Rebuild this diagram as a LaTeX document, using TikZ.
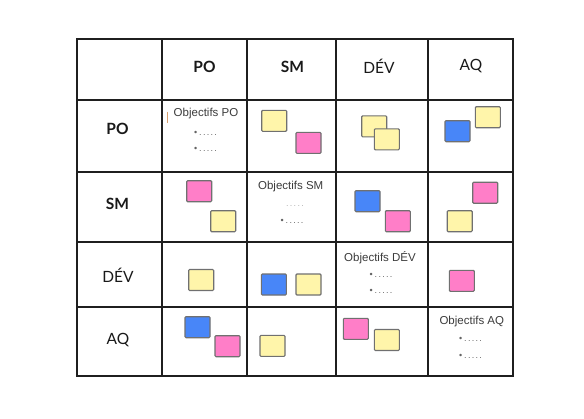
\documentclass[tikz,border=0pt]{standalone}
\usepackage{fontspec}
\setmainfont{Liberation Sans}
\newfontfamily\hdfont{Lato}
\definecolor{noteY}{HTML}{FFF5AA}
\definecolor{noteP}{HTML}{FF7EC8}
\definecolor{noteB}{HTML}{4886F8}
\definecolor{noteEdge}{HTML}{707070}
\definecolor{objText}{HTML}{3C3C3C}
\definecolor{cursorC}{HTML}{D9A070}
\newcommand{\dotrow}{.\kern1.3pt.\kern1.3pt.\kern1.3pt.\kern1.3pt.}
\tikzset{
  gridline/.style={line width=2pt, draw=black!88},
  note/.style={draw=noteEdge, line width=1.1pt, rounded corners=1pt, minimum width=25pt, minimum height=21pt, inner sep=0pt},
  ynote/.style={note, fill=noteY},
  pnote/.style={note, fill=noteP},
  bnote/.style={note, fill=noteB},
  headB/.style={font=\hdfont\bfseries\fontsize{15.5}{17}\selectfont, text=black!90, inner sep=0pt},
  headR/.style={font=\hdfont\fontsize{15.5}{17}\selectfont, text=black!90, inner sep=0pt},
  objtitle/.style={font=\fontsize{11.5}{13}\selectfont, text=objText, inner sep=0pt},
  objitem/.style={font=\fontsize{9}{10}\selectfont, text=objText!80, inner sep=0pt},
}
\begin{document}
\begin{tikzpicture}[x=1pt,y=-1pt]
\useasboundingbox[fill=white] (0,0) rectangle (584,418);
% grid
\foreach \xx in {161.7,246.7,336,428} \draw[gridline] (\xx,39) -- (\xx,376);
\foreach \yy in {100,172,241.7,306.7} \draw[gridline] (76.5,\yy) -- (512.7,\yy);
\draw[gridline] (76.5,39) rectangle (512.7,376);
% headers
\node[headB] (hPO) at (204.5,66.5) {PO};
\node[headB] (hSM) at (292.5,66.5) {SM};
\node[headR] (hDEV) at (379,66.5) {DÉV};
\node[headR] (hAQ) at (471,66.5) {AQ};
\node[headB] (rPO) at (117.5,129) {PO};
\node[headB] (rSM) at (117.5,203.5) {SM};
\node[headR] (rDEV) at (118,275) {DÉV};
\node[headR] (rAQ) at (118,340) {AQ};
% objectives
\draw[cursorC, line width=0.8pt] (167.3,111.7) -- (167.3,122.7);
\node[objtitle] (oPO) at (206,114) {Objectifs PO};
\node[objitem] (oPO1) at (205.5,133.5) {•\kern2pt\dotrow};
\node[objitem] (oPO2) at (205.5,149.5) {•\kern2pt\dotrow};
\node[objtitle] (oSM) at (290.7,187) {Objectifs SM};
\node[objitem, text=objText!40] (oSM1) at (295,206) {\dotrow};
\node[objitem] (oSM2) at (292,221.5) {•\kern2pt\dotrow};
\node[objtitle] (oDEV) at (380,257.7) {Objectifs DÉV};
\node[objitem] (oDEV1) at (381,275) {•\kern2pt\dotrow};
\node[objitem] (oDEV2) at (381,291.5) {•\kern2pt\dotrow};
\node[objtitle] (oAQ) at (471.8,322) {Objectifs AQ};
\node[objitem] (oAQ1) at (470.5,339.3) {•\kern2pt\dotrow};
\node[objitem] (oAQ2) at (470.5,356.5) {•\kern2pt\dotrow};
% notes
\node[ynote] (n1) at (274.2,120.8) {};
\node[pnote] (n2) at (308.5,142.8) {};
\node[ynote] (n3) at (374.2,126.3) {};
\node[ynote] (n4) at (386.8,139.3) {};
\node[bnote] (n5) at (457.5,131.2) {};
\node[ynote] (n6) at (487.8,117.2) {};
\node[pnote] (n7) at (199.2,191.2) {};
\node[ynote] (n8) at (223.2,221.2) {};
\node[ynote] (n9) at (201.2,280) {};
\node[bnote] (n10) at (197.5,327.2) {};
\node[pnote] (n11) at (227.5,346.2) {};
\node[bnote] (n12) at (367.5,201.2) {};
\node[pnote] (n13) at (397.8,221.2) {};
\node[pnote] (n14) at (485.2,192.7) {};
\node[ynote] (n15) at (459.7,221.2) {};
\node[bnote] (n16) at (273.8,284.5) {};
\node[ynote] (n17) at (308.5,284.5) {};
\node[pnote] (n18) at (461.8,280.8) {};
\node[ynote] (n19) at (272.5,345.8) {};
\node[pnote] (n20) at (355.8,328.8) {};
\node[ynote] (n21) at (386.8,340) {};
\end{tikzpicture}
\end{document}
